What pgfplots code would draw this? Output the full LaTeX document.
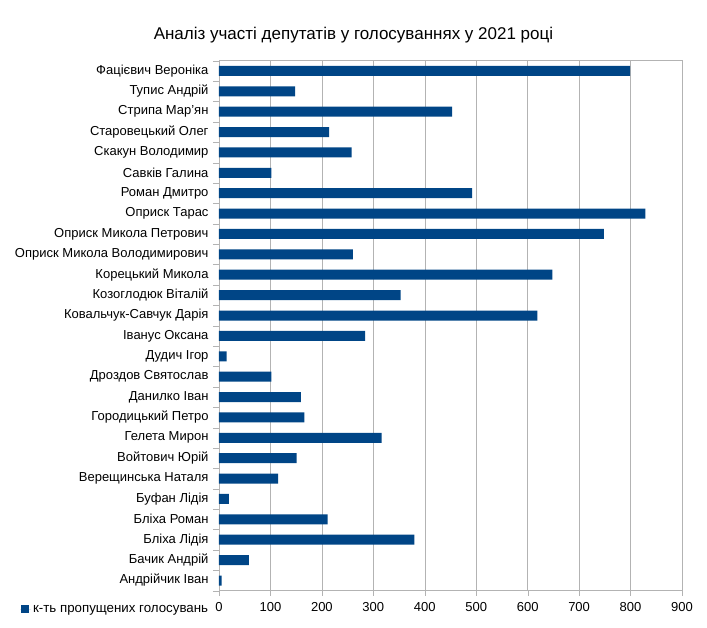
\documentclass[border=0pt]{standalone}
\usepackage{fontspec}
\setmainfont{Liberation Sans}
\usepackage{pgfplots}
\pgfplotsset{compat=1.18}
\definecolor{barblue}{HTML}{004586}
\definecolor{gridgray}{HTML}{B3B3B3}
\begin{document}
\begin{tikzpicture}
\path[use as bounding box] (0pt,0pt) rectangle (707pt,628pt);
\node[font=\fontsize{17}{20}\selectfont, anchor=base, inner sep=0pt] at (353.5pt,588.7pt) {Аналіз участі депутатів у голосуваннях у 2021 році};
\begin{axis}[
  at={(219pt,37.3pt)}, anchor=south west,
  scale only axis, width=463pt, height=530pt,
  xbar, bar width=10pt,
  xmin=0, xmax=900, ymin=-0.5, ymax=25.5,
  xtick={0,100,...,900},
  ytick={0,...,25},
  yticklabels={Андрійчик Іван,Бачик Андрій,Бліха Лідія,Бліха Роман,Буфан Лідія,Верещинська Наталя,Войтович Юрій,Гелета Мирон,Городицький Петро,Данилко Іван,Дроздов Святослав,Дудич Ігор,Іванус Оксана,Ковальчук-Савчук Дарія,Козоглодюк Віталій,Корецький Микола,Оприск Микола Володимирович,Оприск Микола Петрович,Оприск Тарас,Роман Дмитро,Савків Галина,Скакун Володимир,Старовецький Олег,Стрипа Мар’ян,Тупис Андрій,Фацієвич Вероніка},
  minor ytick={-0.5,0.5,...,25.5},
  tick pos=left,
  tick align=outside,
  major tick length=5pt,
  minor tick length=6pt,
  major y tick style={draw=none},
  tick style={gridgray},
  xmajorgrids, grid style={gridgray},
  axis line style={gridgray},
  xticklabel style={font=\fontsize{13}{15}\selectfont, yshift=-3pt},
  yticklabel style={font=\fontsize{13}{15}\selectfont, xshift=-2pt},
  /pgf/number format/assume math mode=true,
  legend style={at={(-0.43,-0.035)}, anchor=west, draw=none, fill=none,
    font=\fontsize{13.3}{15}\selectfont, inner sep=0pt},
  legend image code/.code={\fill[barblue] (0.7pt,-4pt) rectangle (8.7pt,4pt); \path (0pt,0pt) -- (11pt,0pt);},
]
\addplot[fill=barblue, draw=none] coordinates {
(5,0) (58,1) (380,2) (211,3) (19,4) (115,5) (151,6) (316,7) (166,8) (159,9)
(102,10) (15,11) (284,12) (619,13) (353,14) (648,15) (260,16) (748,17) (829,18)
(492,19) (102,20) (258,21) (214,22) (453,23) (148,24) (799,25)
};
\addlegendentry{к-ть пропущених голосувань}
\end{axis}
\end{tikzpicture}
\end{document}
